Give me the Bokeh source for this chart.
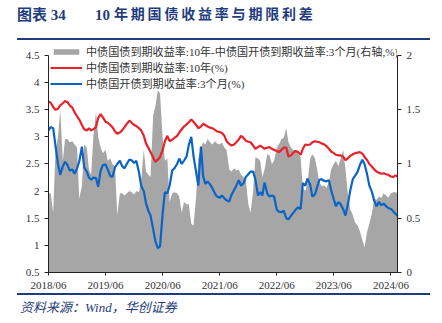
import pandas as pd
from bokeh.plotting import figure
from bokeh.layouts import column
from bokeh.models import (Range1d, LinearAxis, FixedTicker, DatetimeTickFormatter,
                          CustomJSTickFormatter, Legend, LegendItem, Div)
from bokeh.embed import file_html
from bokeh.resources import INLINE

# ---------------- data (semi-monthly readings) ----------------
start_date = "2018-06-01"
end_date = "2024-07-13"

# 中债国债到期收益率:10年 (%)
yield_10y = [
    3.65, 3.63, 3.55, 3.50, 3.52, 3.58, 3.62, 3.66, 3.64, 3.58,
    3.54, 3.45, 3.38, 3.32, 3.22, 3.14, 3.12, 3.16, 3.12, 3.14,
    3.18, 3.35, 3.42, 3.36, 3.28, 3.26, 3.22, 3.18, 3.10, 3.06,
    3.08, 3.12, 3.18, 3.24, 3.30, 3.26, 3.22, 3.20, 3.16, 3.12,
    3.02, 2.88, 2.80, 2.72, 2.62, 2.54, 2.58, 2.63, 2.76, 2.92,
    3.02, 2.92, 2.95, 2.98, 3.02, 3.08, 3.14, 3.19, 3.23, 3.27,
    3.32, 3.28, 3.22, 3.16, 3.19, 3.24, 3.22, 3.19, 3.17, 3.16,
    3.13, 3.10, 3.09, 3.07, 3.02, 2.92, 2.87, 2.84, 2.86, 2.90,
    2.95, 3.02, 2.98, 2.93, 2.91, 2.90, 2.84, 2.78, 2.81, 2.84,
    2.81, 2.78, 2.80, 2.81, 2.78, 2.76, 2.74, 2.72, 2.76, 2.80,
    2.80, 2.64, 2.66, 2.71, 2.74, 2.72, 2.67, 2.78, 2.86, 2.85,
    2.86, 2.90, 2.92, 2.91, 2.90, 2.88, 2.86, 2.83, 2.78, 2.73,
    2.70, 2.67, 2.66, 2.66, 2.63, 2.57, 2.61, 2.65, 2.68, 2.70,
    2.71, 2.72, 2.69, 2.63, 2.57, 2.50, 2.45, 2.40, 2.36, 2.34,
    2.32, 2.33, 2.31, 2.30, 2.27, 2.26, 2.29, 2.27,
]

# 中债国开债到期收益率:3个月 (%)
cdb_3m = [
    3.12, 3.18, 3.16, 2.85, 2.50, 2.30, 2.46, 2.54, 2.48, 2.38,
    2.40, 2.32, 2.42, 2.55, 2.82, 2.44, 2.36, 2.25, 2.21, 2.25,
    2.24, 2.08, 2.38, 2.48, 2.49, 2.40, 2.28, 2.26, 2.44, 2.50,
    2.56, 2.46, 2.42, 2.50, 2.58, 2.57, 2.52, 2.56, 2.35, 2.10,
    2.00, 1.78, 1.64, 1.55, 1.30, 1.08, 0.95, 0.98, 1.60, 1.98,
    1.96, 2.10, 2.38, 2.42, 2.50, 2.60, 2.50, 2.56, 2.64, 2.85,
    3.00, 2.65, 2.35, 2.10, 2.82, 2.28, 2.13, 2.18, 2.12, 2.05,
    1.96, 1.90, 1.88, 1.92, 1.87, 1.83, 1.81, 1.93, 2.02, 2.10,
    2.20, 2.10, 2.15, 2.26, 2.31, 2.36, 2.36, 2.22, 1.92, 1.98,
    1.92, 2.16, 1.96, 1.90, 1.92, 1.90, 1.66, 1.62, 1.61, 1.64,
    1.50, 1.48, 1.55, 1.60, 1.66, 1.70, 1.67, 2.15, 2.10, 2.23,
    2.12, 1.90, 1.94, 2.08, 2.21, 2.22, 2.19, 2.18, 2.20, 2.02,
    1.85, 1.72, 1.80, 1.76, 1.66, 1.55, 1.78, 2.02, 2.22, 2.28,
    2.36, 2.48, 2.58, 2.50, 2.30, 2.10, 1.98, 1.82, 1.72, 1.80,
    1.74, 1.77, 1.72, 1.69, 1.67, 1.63, 1.58, 1.54,
]

# 中债国债到期收益率:10年-中债国开债到期收益率:3个月 (右轴, %)
term_spread = [
    0.73, 0.73, 0.55, 1.10, 1.25, 1.50, 1.03, 1.23, 1.23, 1.20,
    1.21, 1.18, 1.15, 0.68, 0.80, 1.18, 1.15, 0.95, 0.90, 1.25,
    1.48, 1.25, 1.15, 1.10, 1.13, 1.03, 1.05, 1.00, 0.98, 0.53,
    0.73, 0.73, 0.71, 0.73, 0.75, 0.74, 0.72, 0.75, 0.74, 0.85,
    1.13, 0.93, 0.90, 0.88, 1.45, 1.53, 1.68, 1.65, 1.23, 1.03,
    1.05, 0.65, 0.73, 0.74, 0.73, 0.70, 0.55, 0.65, 0.63, 0.63,
    0.45, 0.43, 0.70, 1.05, 1.15, 1.20, 1.18, 1.23, 1.20, 1.18,
    1.21, 1.19, 1.18, 1.20, 1.15, 1.13, 0.95, 0.93, 0.96, 0.94,
    0.95, 0.90, 0.88, 0.85, 0.63, 0.55, 0.75, 1.06, 1.05, 1.03,
    0.88, 0.95, 1.09, 1.08, 1.00, 1.03, 1.15, 1.18, 1.23, 1.24,
    1.33, 1.20, 1.15, 1.13, 1.13, 1.10, 1.06, 0.78, 0.75, 0.83,
    1.05, 1.09, 1.05, 0.95, 0.83, 0.80, 0.80, 0.78, 0.83, 0.95,
    1.00, 1.03, 0.98, 1.05, 1.13, 0.95, 0.70, 0.58, 0.53, 0.46,
    0.43, 0.38, 0.30, 0.23, 0.38, 0.45, 0.55, 0.68, 0.67, 0.70,
    0.69, 0.73, 0.71, 0.69, 0.73, 0.74, 0.74, 0.73,
]

left_ticks = [0.5, 1, 1.5, 2, 2.5, 3, 3.5, 4, 4.5]
right_ticks = [0, 0.5, 1, 1.5, 2]
x_tick_dates = ["2018-06-01", "2019-06-01", "2020-06-01", "2021-06-01",
                "2022-06-01", "2023-06-01", "2024-06-01"]

legend_labels = [
    "中债国债到期收益率:10年-中债国开债到期收益率:3个月(右轴,%)",
    "中债国债到期收益率:10年(%)",
    "中债国开债到期收益率:3个月(%)",
]
title_num = "图表 34"
title_a = "10"
title_b = "年期国债收益率与期限利差"
source_text = "资料来源：Wind，华创证券"

# ---------------- styles ----------------
NAVY = "#1F3C7E"
GRAY = "#A6A6A6"
RED = "#E8212B"
BLUE = "#0A64C8"
TXT = "#333333"
FONT = "Liberation Serif, Noto Sans CJK SC"
CSS_FONT = "'Liberation Serif','Noto Sans CJK SC',serif"

dates = pd.date_range(start_date, periods=len(yield_10y), freq="SMS")

# left: 0.5 -> 4.5 drawn on axis; frame extends a little above 4.5 for the legend
left_top = 4.758
right_top = (left_top - 0.5) / 2

p = figure(width=442, height=252, x_axis_type="datetime",
           x_range=Range1d(pd.Timestamp(start_date), pd.Timestamp(end_date)),
           y_range=Range1d(0.5, left_top),
           output_backend="svg", toolbar_location=None,
           min_border_left=48, min_border_right=45,
           min_border_top=0, min_border_bottom=21,
           outline_line_color=None, margin=0,
           background_fill_color="white", border_fill_color="white")
p.extra_y_ranges = {"right": Range1d(0, right_top)}
p.grid.visible = False

area = p.varea(x=dates, y1=0, y2=term_spread, y_range_name="right",
               fill_color=GRAY, fill_alpha=1.0)
r_red = p.line(dates, yield_10y, line_color=RED, line_width=2.2)
r_blue = p.line(dates, cdb_3m, line_color=BLUE, line_width=2.2)

# axes
x_ticks_ms = [pd.Timestamp(d).value // 10**6 for d in x_tick_dates]
xa = p.xaxis[0]
xa.ticker = FixedTicker(ticks=x_ticks_ms)
xa.formatter = DatetimeTickFormatter(years="%Y/%m", months="%Y/%m", days="%Y/%m")

ya = p.yaxis[0]
ya.ticker = FixedTicker(ticks=left_ticks)
ya.formatter = CustomJSTickFormatter(code="return tick.toString()")
ya.bounds = (0.5, 4.5)

yr = LinearAxis(y_range_name="right", ticker=FixedTicker(ticks=right_ticks),
                formatter=CustomJSTickFormatter(code="return tick.toString()"),
                bounds=(0, 2))
p.add_layout(yr, "right")

for ax in (xa, ya, yr):
    ax.axis_line_color = "#222222"
    ax.axis_line_width = 1
    ax.major_tick_line_color = "#222222"
    ax.major_tick_out = 4
    ax.major_tick_in = 0
    ax.minor_tick_out = 0
    ax.minor_tick_in = 0
    ax.major_label_text_font = FONT
    ax.major_label_text_font_size = "11px"
    ax.major_label_text_color = TXT
xa.major_tick_out = 3
xa.major_label_standoff = 3
ya.major_label_standoff = 5
yr.major_label_standoff = 5

# legend
legend = Legend(items=[LegendItem(label=legend_labels[0], renderers=[area]),
                       LegendItem(label=legend_labels[1], renderers=[r_red]),
                       LegendItem(label=legend_labels[2], renderers=[r_blue])],
                location="top_left", orientation="vertical",
                border_line_color=None, background_fill_alpha=0,
                padding=0, margin=2, spacing=-3, label_standoff=4,
                glyph_width=32, glyph_height=7, label_height=13,
                label_text_font=FONT, label_text_font_size="11.1px",
                label_text_color=TXT)
p.add_layout(legend)

title_html = (
    f'<div style="position:relative;width:442px;height:41px;font-family:{CSS_FONT};'
    f'color:{NAVY};font-weight:bold;">'
    f'<span style="position:absolute;left:17px;top:5px;font-size:15px;line-height:20px;white-space:nowrap;">{title_num}</span>'
    f'<span style="position:absolute;left:95px;top:5px;font-size:15px;line-height:20px;white-space:nowrap;">{title_a}</span>'
    f'<span style="position:absolute;left:114px;top:5px;font-size:14px;line-height:20px;letter-spacing:2.8px;white-space:nowrap;">{title_b}</span>'
    f'<div style="position:absolute;left:17px;top:38px;width:413px;height:2px;background:{NAVY};"></div>'
    '</div>'
)
source_html = (
    f'<div style="position:relative;width:442px;height:30px;font-family:{CSS_FONT};color:{NAVY};">'
    f'<div style="position:absolute;left:17px;top:0px;width:413px;height:2px;background:{NAVY};"></div>'
    f'<span style="position:absolute;left:20px;top:6px;font-size:13px;line-height:18px;font-style:italic;white-space:nowrap;">{source_text}</span>'
    '</div>'
)
title_div = Div(text=title_html, width=442, height=41, margin=0)
source_div = Div(text=source_html, width=442, height=30, margin=0)

layout = column(title_div, p, source_div, spacing=0, margin=0)

open("out.html", "w").write(file_html(layout, INLINE))
